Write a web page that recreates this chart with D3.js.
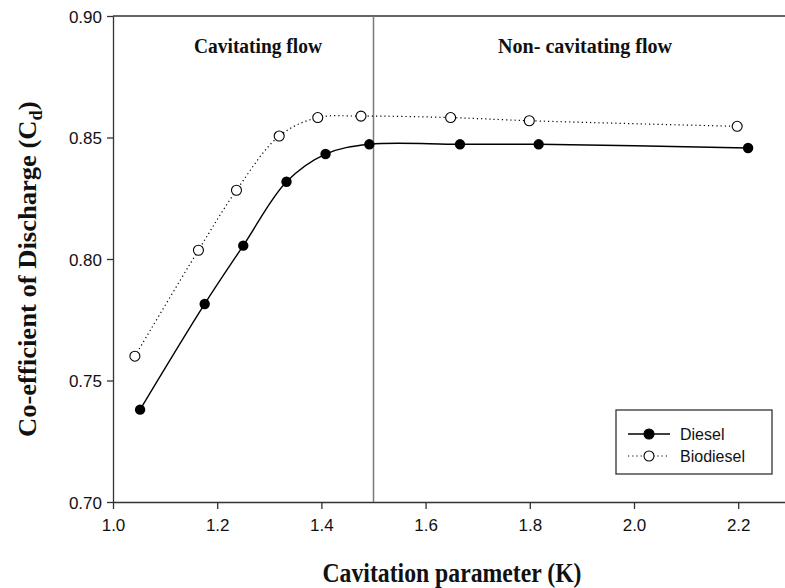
<!DOCTYPE html>
<html>
<head>
<meta charset="utf-8">
<script src="https://cdn.jsdelivr.net/npm/d3@7"></script>
<style>
  html, body { margin: 0; padding: 0; background: #fff; }
  svg { display: block; }
</style>
</head>
<body>
<svg id="chart" width="785" height="588"></svg>
<script>
// Cavitation parameter K for each measured point
const dieselK    = [1.052, 1.176, 1.250, 1.333, 1.408, 1.492, 1.666, 1.817, 2.219];
const dieselCd   = [0.738, 0.7815, 0.8055, 0.8318, 0.8432, 0.8472, 0.8472, 0.8472, 0.8457];
const biodieselK  = [1.042, 1.164, 1.237, 1.319, 1.393, 1.476, 1.648, 1.799, 2.198];
const biodieselCd = [0.760, 0.8036, 0.8283, 0.8506, 0.8582, 0.8588, 0.8582, 0.8569, 0.8546];

const xTicks = [1.0, 1.2, 1.4, 1.6, 1.8, 2.0, 2.2];
const yTicks = [0.70, 0.75, 0.80, 0.85, 0.90];
const regimeBoundary = 1.5;
const regimeLabels = ["Cavitating flow", "Non- cavitating flow"];
const seriesNames = ["Diesel", "Biodiesel"];

const svg = d3.select("#chart");
const plotLeft = 113, plotTop = 16, plotBottom = 502;

const x = d3.scaleLinear().domain([1.0, 2.3]).range([plotLeft, plotLeft + 1.3 * 521]);
const y = d3.scaleLinear().domain([0.70, 0.90]).range([plotBottom, plotTop]);

const axisColor = "#333";
const tickFont = "'Liberation Sans', Arial, sans-serif";
const titleFont = "'Liberation Serif', 'DejaVu Serif', serif";

// Frame: top spine
svg.append("line")
  .attr("x1", plotLeft).attr("x2", x.range()[1])
  .attr("y1", plotTop).attr("y2", plotTop)
  .attr("stroke", axisColor).attr("stroke-width", 1.3);

// Axes
const xAxis = svg.append("g")
  .attr("transform", `translate(0,${plotBottom})`)
  .call(d3.axisBottom(x).tickValues(xTicks).tickFormat(d3.format(".1f")).tickSizeInner(7).tickSizeOuter(0).tickPadding(10));
const yAxis = svg.append("g")
  .attr("transform", `translate(${plotLeft},0)`)
  .call(d3.axisLeft(y).tickValues(yTicks).tickFormat(d3.format(".2f")).tickSizeInner(6).tickSizeOuter(0).tickPadding(5));

[xAxis, yAxis].forEach(g => {
  g.select(".domain").attr("stroke", axisColor).attr("stroke-width", 1.3);
  g.selectAll(".tick line").attr("stroke", axisColor).attr("stroke-width", 1.3);
  g.selectAll(".tick text")
    .attr("fill", "#111")
    .style("font-family", tickFont)
    .style("font-size", "17px");
});
yAxis.selectAll(".tick text").attr("dy", "0.36em");

// Regime boundary
svg.append("line")
  .attr("x1", x(regimeBoundary)).attr("x2", x(regimeBoundary))
  .attr("y1", plotTop).attr("y2", plotBottom)
  .attr("stroke", "#7a7a7a").attr("stroke-width", 1.5);

// Regime labels
const regimeX = [258, 585];
const regimeW = [128, 174];
regimeLabels.forEach((t, i) => {
  svg.append("text")
    .attr("x", regimeX[i]).attr("y", 53)
    .attr("text-anchor", "middle")
    .attr("textLength", regimeW[i]).attr("lengthAdjust", "spacingAndGlyphs")
    .style("font-family", titleFont).style("font-weight", "bold").style("font-size", "20px")
    .attr("fill", "#111")
    .text(t);
});

// Series
const line = d3.line().x(d => x(d[0])).y(d => y(d[1])).curve(d3.curveCatmullRom.alpha(0.5));
const diesel = dieselK.map((k, i) => [k, dieselCd[i]]);
const biodiesel = biodieselK.map((k, i) => [k, biodieselCd[i]]);

svg.append("path").datum(biodiesel)
  .attr("d", line).attr("fill", "none")
  .attr("stroke", "#000").attr("stroke-width", 1.2)
  .attr("stroke-dasharray", "1.2,3");
svg.append("path").datum(diesel)
  .attr("d", line).attr("fill", "none")
  .attr("stroke", "#000").attr("stroke-width", 1.4);

svg.append("g").selectAll("circle").data(biodiesel).join("circle")
  .attr("cx", d => x(d[0])).attr("cy", d => y(d[1])).attr("r", 5)
  .attr("fill", "#fff").attr("stroke", "#000").attr("stroke-width", 1.1);
svg.append("g").selectAll("circle").data(diesel).join("circle")
  .attr("cx", d => x(d[0])).attr("cy", d => y(d[1])).attr("r", 5.2)
  .attr("fill", "#000");

// Axis titles
svg.append("text")
  .attr("x", 452).attr("y", 582)
  .attr("text-anchor", "middle")
  .attr("textLength", 259).attr("lengthAdjust", "spacingAndGlyphs")
  .style("font-family", titleFont).style("font-weight", "bold").style("font-size", "27px")
  .attr("fill", "#111")
  .text("Cavitation parameter (K)");

// Y title: condensed so that the main phrase spans the measured length
const yTitleG = svg.append("g");
const yTitle = yTitleG.append("text")
  .attr("text-anchor", "start")
  .style("font-family", titleFont).style("font-weight", "bold").style("font-size", "26px")
  .attr("fill", "#111");
const mainPart = yTitle.append("tspan").text("Co-efficient of Discharge (C");
yTitle.append("tspan").attr("dy", 6).style("font-size", "18px").text("d");
yTitle.append("tspan").attr("dy", -6).text(")");
const probe = svg.append("text")
  .style("font-family", titleFont).style("font-weight", "bold").style("font-size", "26px")
  .text("Co-efficient of Discharge");
const phraseLen = probe.node().getComputedTextLength();
probe.remove();
const sx = 282 / phraseLen;
yTitleG.attr("transform", `translate(36,437) rotate(-90) scale(${sx},1)`);

// Legend
const lg = svg.append("g");
lg.append("rect")
  .attr("x", 616).attr("y", 410).attr("width", 156).attr("height", 64)
  .attr("fill", "#fff").attr("stroke", axisColor).attr("stroke-width", 1.3);
const rowsY = [434, 456];
seriesNames.forEach((name, i) => {
  const r = lg.append("g").attr("transform", `translate(0,${rowsY[i]})`);
  r.append("line").attr("x1", 628).attr("x2", 670).attr("y1", 0).attr("y2", 0)
    .attr("stroke", "#000").attr("stroke-width", i === 0 ? 1.4 : 1.2)
    .attr("stroke-dasharray", i === 0 ? null : "1.2,3");
  r.append("circle").attr("cx", 649).attr("cy", 0).attr("r", 5)
    .attr("fill", i === 0 ? "#000" : "#fff").attr("stroke", "#000").attr("stroke-width", 1.1);
  r.append("text").attr("x", 680).attr("y", 0).attr("dy", "0.35em")
    .style("font-family", tickFont).style("font-size", "16px").attr("fill", "#111")
    .text(name);
});
</script>
</body>
</html>
